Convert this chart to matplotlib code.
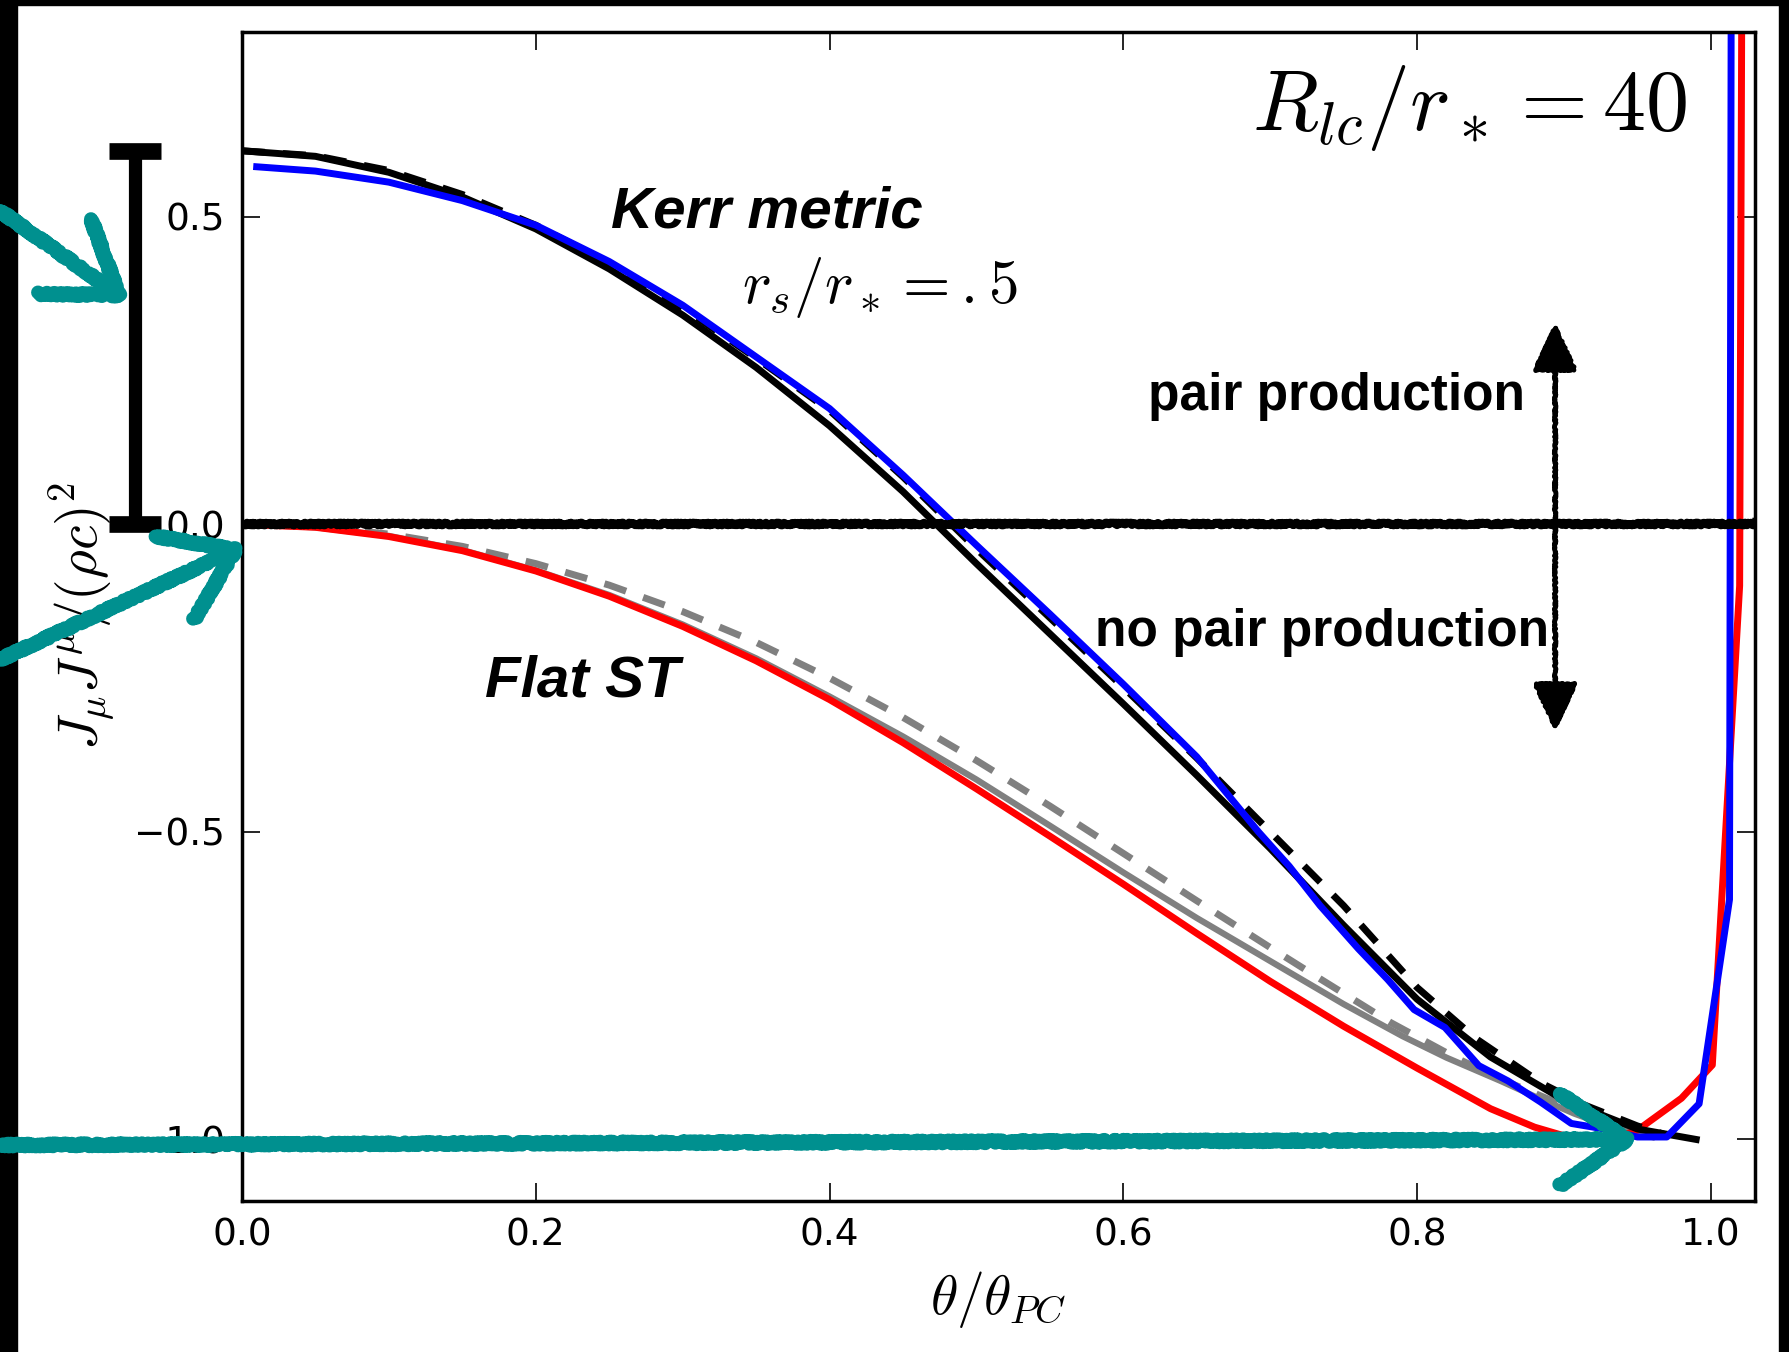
import numpy as np
import matplotlib
matplotlib.use("Agg")
import matplotlib.pyplot as plt
from matplotlib.patches import Rectangle

plt.rcParams['mathtext.fontset'] = 'cm'
plt.rcParams['font.family'] = 'DejaVu Sans'

# Kerr metric, analytic (black solid) and dashed approximation
kerr_x = [0, 0.05, 0.1, 0.15, 0.2, 0.25, 0.3, 0.35, 0.4, 0.45, 0.5, 0.55, 0.6,
          0.65, 0.7, 0.75, 0.8, 0.85, 0.9, 0.95, 0.99]
kerr_y = [0.607, 0.598, 0.572, 0.532, 0.48, 0.415, 0.34, 0.255, 0.16, 0.053,
          -0.064, -0.178, -0.292, -0.408, -0.527, -0.652, -0.772, -0.866,
          -0.936, -0.983, -1.0]

kerr_dash_x = [0, 0.05, 0.1, 0.15, 0.2, 0.25, 0.3, 0.35, 0.4, 0.45, 0.5, 0.55,
               0.6, 0.65, 0.7, 0.75, 0.8, 0.84, 0.885, 0.914, 0.95, 0.97]
kerr_dash_y = [0.607, 0.599, 0.575, 0.536, 0.486, 0.424, 0.352, 0.27, 0.185,
               0.077, -0.04, -0.152, -0.265, -0.38, -0.5, -0.62, -0.753,
               -0.836, -0.909, -0.944, -0.978, -0.993]

# Kerr metric, simulation (blue)
sim_kerr_x = [0.01, 0.05, 0.1, 0.15, 0.2, 0.25, 0.3, 0.35, 0.4, 0.45, 0.5,
              0.55, 0.6, 0.65, 0.692, 0.713, 0.734, 0.76, 0.78, 0.798, 0.819,
              0.842, 0.862, 0.884, 0.905, 0.925, 0.95, 0.97, 0.992, 1.0127,
              1.0138, 1.0152]
sim_kerr_y = [0.581, 0.574, 0.556, 0.526, 0.486, 0.427, 0.356, 0.272, 0.188,
              0.08, -0.034, -0.146, -0.26, -0.378, -0.50, -0.556, -0.62, -0.69,
              -0.74, -0.789, -0.818, -0.88, -0.905, -0.939, -0.974, -0.982,
              -0.996, -0.996, -0.942, -0.61, 0.8, 1.9]

# Flat spacetime, analytic (gray solid / gray dashed)
flat_x = [0, 0.05, 0.1, 0.15, 0.2, 0.25, 0.3, 0.35, 0.4, 0.45, 0.5, 0.55, 0.6,
          0.65, 0.7, 0.75, 0.79, 0.82, 0.857, 0.88, 0.907, 0.93, 0.95, 0.96]
flat_y = [0, -0.005, -0.019, -0.042, -0.075, -0.115, -0.163, -0.218, -0.28,
          -0.345, -0.415, -0.49, -0.566, -0.64, -0.71, -0.78, -0.832, -0.867,
          -0.905, -0.93, -0.958, -0.978, -0.99, -0.996]

flat_dash_x = [0, 0.05, 0.1, 0.15, 0.2, 0.25, 0.3, 0.35, 0.4, 0.45, 0.5, 0.55,
               0.6, 0.65, 0.7, 0.73, 0.782, 0.827, 0.855, 0.9, 0.93, 0.95]
flat_dash_y = [0, -0.004, -0.016, -0.036, -0.064, -0.099, -0.142, -0.192,
               -0.25, -0.314, -0.384, -0.458, -0.535, -0.612, -0.688, -0.733,
               -0.81, -0.868, -0.9, -0.945, -0.972, -0.99]

# Flat spacetime, simulation (red)
sim_flat_x = [0, 0.05, 0.1, 0.15, 0.2, 0.25, 0.3, 0.35, 0.4, 0.45, 0.5, 0.55,
              0.6, 0.65, 0.7, 0.75, 0.8, 0.85, 0.88, 0.9, 0.935, 0.95, 0.98,
              1.001, 1.0196, 1.0225]
sim_flat_y = [0, -0.005, -0.02, -0.043, -0.076, -0.117, -0.166, -0.222,
              -0.285, -0.355, -0.43, -0.507, -0.585, -0.665, -0.743, -0.816,
              -0.884, -0.95, -0.98, -0.994, -0.997, -0.985, -0.933, -0.879,
              -0.1, 1.8]

xticks = [0.0, 0.2, 0.4, 0.6, 0.8, 1.0]
yticks = [-1.0, -0.5, 0.0, 0.5]

teal = '#00908f'

fig = plt.figure(figsize=(17.9, 13.52), dpi=100)
ax = fig.add_axes([0.1352, 0.1117, 0.8452, 0.8646])

ax.plot(flat_x, flat_y, color='gray', lw=4.5)
ax.plot(flat_dash_x, flat_dash_y, color='gray', lw=5, ls=(0, (3.3, 2.6)))
ax.plot(sim_flat_x, sim_flat_y, color='red', lw=5)
ax.plot(kerr_x, kerr_y, color='black', lw=5)
ax.plot(kerr_dash_x, kerr_dash_y, color='black', lw=5, ls=(0, (3.3, 2.6)))
ax.plot(sim_kerr_x, sim_kerr_y, color='blue', lw=5)

# pair production threshold, drawn by hand in the original
zl = ax.axhline(0.0, color='black', lw=6, zorder=5)
zl.set_sketch_params(scale=1.2, length=3, randomness=6)

ax.set_xlim(0, 1.03)
ax.set_ylim(-1.1, 0.8)
ax.set_xticks(xticks)
ax.set_yticks(yticks)
ax.tick_params(direction='in', length=13, width=1.2, top=True, right=True,
               labelsize=27, pad=12)
for s in ax.spines.values():
    s.set_linewidth(2.5)

ax.set_xlabel(r'$\theta/\theta_{PC}$', fontsize=40)
ax.xaxis.set_label_coords(0.5, -0.058)
ax.set_ylabel(r'$J_\mu J^\mu/(\rho c)^2$', fontsize=40)
ax.yaxis.set_label_coords(-0.082, 0.5)

bold_it = dict(family='Liberation Sans', weight='bold', style='italic',
               fontsize=42, ha='center', va='center')
ax.text(0.357, 0.506, 'Kerr metric', **bold_it)
ax.text(0.232, -0.256, 'Flat ST', **bold_it)
ax.text(0.434, 0.385, r'$r_s/r_* = .5$', fontsize=44, ha='center', va='center')
ax.text(0.984, 0.676, r'$R_{lc}/r_* = 40$', fontsize=62, ha='right',
        va='center')

bold = dict(family='Liberation Sans', weight='bold', fontsize=37,
            ha='center', va='center')
ax.text(0.745, 0.207, 'pair production', **bold)
ax.text(0.735, -0.176, 'no pair production', **bold)

# double arrow
da = ax.annotate('', xy=(0.894, 0.328), xytext=(0.894, -0.337),
                 arrowprops=dict(arrowstyle='<|-|>,head_length=0.6,head_width=0.28',
                                 lw=3.5, color='black', mutation_scale=50,
                                 shrinkA=0, shrinkB=0), zorder=6)
da.arrow_patch.set_sketch_params(scale=0.8, length=3, randomness=4)

# bracket showing the gap at theta = 0
eb = ax.errorbar([-0.073], [kerr_y[0] / 2], yerr=[kerr_y[0] / 2],
                 color='black', elinewidth=9.5, capsize=19, capthick=12,
                 clip_on=False, zorder=6)
for artist in eb.lines[1] + eb.lines[2]:
    artist.set_clip_on(False)

# hand drawn teal arrows
arr = dict(arrowstyle='->,head_length=0.48,head_width=0.33', lw=10,
           color=teal, mutation_scale=100, shrinkA=0, shrinkB=0)
targets = [((0.951, -1.0), (0.0, 0.153)),
           ((0.003, -0.033), (0.0, 0.512)),
           ((-0.077, 0.361), (0.0, 0.844))]
for tip, tail in targets:
    an = ax.annotate('', xy=tip, xycoords='data', xytext=tail,
                     textcoords='figure fraction', arrowprops=arr,
                     annotation_clip=False, zorder=10)
    an.arrow_patch.set_sketch_params(scale=1.5, length=4, randomness=6)

# black screen border
fig.patches.append(Rectangle((0, 0), 17 / 1790, 1, transform=fig.transFigure,
                             color='black', zorder=-1))
fig.patches.append(Rectangle((0, 1 - 5 / 1352), 1, 5 / 1352,
                             transform=fig.transFigure, color='black', zorder=-1))
fig.patches.append(Rectangle((1 - 11 / 1790, 0), 11 / 1790, 1,
                             transform=fig.transFigure, color='black', zorder=-1))

fig.savefig('out.png', dpi=100)
